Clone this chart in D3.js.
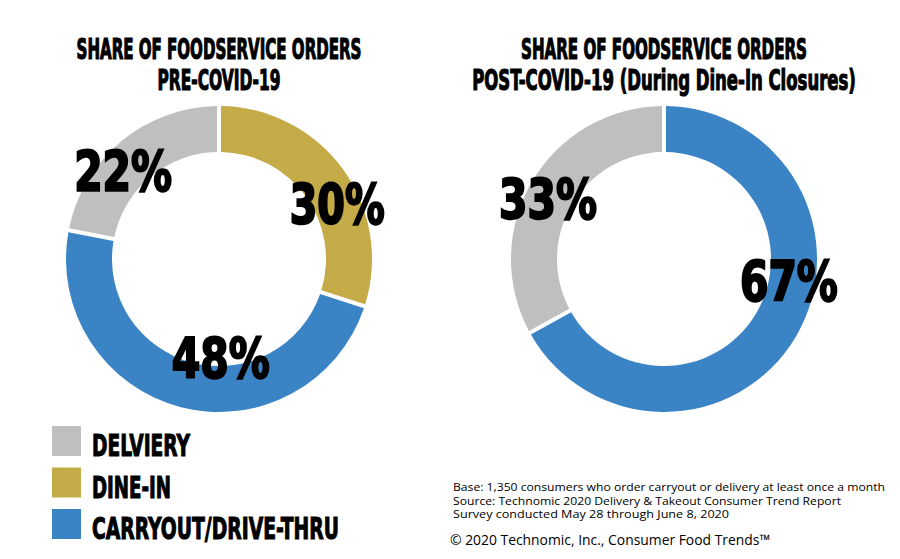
<!DOCTYPE html>
<html><head><meta charset="utf-8">
<script src="https://cdn.jsdelivr.net/npm/d3@7"></script>
<style>
body{margin:0;background:#fff;}
.hd{font-family:"DejaVu Sans Condensed","Liberation Sans Narrow",sans-serif;font-weight:bold;fill:#000;stroke:#000;}
.ft{font-family:"Open Sans",sans-serif;fill:#000;}
</style></head>
<body><svg id="c" width="900" height="559"></svg>
<script>
const categories = ["DELVIERY", "DINE-IN", "CARRYOUT/DRIVE-THRU"];
const colors = ["#BFBFBF", "#C4AB48", "#3A84C6"];
const preCovid = [22, 30, 48];
const postCovid = [33, 0, 67];
const pieOrder = [1, 2, 0]; // clockwise from 12 o'clock
const titlesPre = ["SHARE OF FOODSERVICE ORDERS", "PRE-COVID-19"];
const titlesPost = ["SHARE OF FOODSERVICE ORDERS", "POST-COVID-19 (During Dine-In Closures)"];
const notes = ["Base: 1,350 consumers who order carryout or delivery at least once a month",
  "Source: Technomic 2020 Delivery & Takeout Consumer Trend Report",
  "Survey conducted May 28 through June 8, 2020"];
const copyright = "\u00A9 2020 Technomic, Inc., Consumer Food Trends\u2122";

const svg = d3.select("#c");
const color = d3.scaleOrdinal().domain(categories).range(colors);
const rOut = 153, rIn = 107;
const arc = d3.arc().innerRadius(rIn).outerRadius(rOut).padAngle(4/130).padRadius(130);
const lblArc = d3.arc().innerRadius(130).outerRadius(130);
const pie = d3.pie().sort(null).value(i => i.v);

// place text at (x,y) and squeeze horizontally to width w
function fitText(sel, x, y, w, anchor) {
  sel.attr("text-anchor", anchor);
  const nat = sel.node().getComputedTextLength();
  const sx = w / nat;
  sel.attr("x", 0).attr("y", 0).attr("transform", `translate(${x},${y}) scale(${sx},1)`)
    .attr("stroke-width", +sel.attr("data-sw") / Math.sqrt(sx));
}

// label nudges relative to arc centroid (layout only)
const nudgePre = {0: [-13, 31, 98], 1: [13, 40, 95], 2: [34, -8, 98]};
const nudgePost = {0: [-4, 25, 98], 2: [13, -25, 98]};

function donut(cx, cy, values, nudge, titles, tw) {
  const g = svg.append("g").attr("transform", `translate(${cx},${cy})`);
  const items = pieOrder.map(i => ({i, v: values[i]})).filter(d => d.v > 0);
  const arcs = pie(items);
  g.selectAll("path").data(arcs).join("path")
    .attr("d", arc).attr("fill", d => color(categories[d.data.i]));
  g.selectAll("text.lbl").data(arcs).join("text").attr("class", "hd lbl")
    .attr("font-size", 55).attr("data-sw", 2)
    .text(d => d.data.v + "%")
    .each(function(d) {
      const c = lblArc.centroid(d), n = nudge[d.data.i];
      fitText(d3.select(this), c[0] + n[0], c[1] + n[1], n[2], "middle");
    });
  titles.forEach((t, k) => {
    const s = svg.append("text").attr("class", "hd").attr("font-size", 28).attr("data-sw", 0.9).text(t);
    fitText(s, cx, 59 + k * 31, tw[k], "middle");
  });
}
donut(219, 259, preCovid, nudgePre, titlesPre, [285, 123]);
donut(664, 259, postCovid, nudgePost, titlesPost, [286, 384]);

// legend
const legW = [98, 79, 247];
const leg = svg.append("g");
categories.forEach((c, k) => {
  const y = 426 + k * 41.5;
  leg.append("rect").attr("x", 52).attr("y", y).attr("width", 29).attr("height", 30).attr("fill", color(c));
  const s = leg.append("text").attr("class", "hd").attr("font-size", 31).attr("data-sw", 0.9).text(c);
  fitText(s, 92, y + 30, legW[k], "start");
});

// footnotes
const noteW = [432, 388, 276];
notes.forEach((t, k) => {
  svg.append("text").attr("class", "ft").attr("x", 453).attr("y", 491 + k * 13.5)
    .attr("font-size", 11.5).attr("textLength", noteW[k]).attr("lengthAdjust", "spacingAndGlyphs").text(t);
});
svg.append("text").attr("class", "ft").attr("x", 450).attr("y", 545).attr("font-size", 14.5)
  .attr("textLength", 320).attr("lengthAdjust", "spacingAndGlyphs").text(copyright);
</script></body></html>
